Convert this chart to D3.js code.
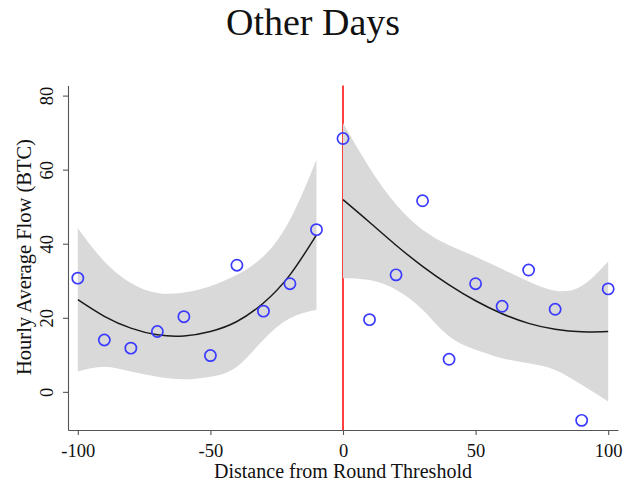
<!DOCTYPE html>
<html>
<head>
<meta charset="utf-8">
<script src="https://cdn.jsdelivr.net/npm/d3@7"></script>
<style>
  html, body { margin: 0; padding: 0; background: #fff; }
  svg { display: block; }
  text { font-family: "Liberation Serif", "Times New Roman", serif; fill: #111; }
</style>
</head>
<body>
<svg id="chart" width="626" height="482"></svg>
<script>
// ---- data ----
const title = "Other Days";
const xLabel = "Distance from Round Threshold";
const yLabel = "Hourly Average Flow (BTC)";
const xTicks = [-100, -50, 0, 50, 100];
const yTicks = [0, 20, 40, 60, 80];

const pointX = [-100, -90, -80, -70, -60, -50, -40, -30, -20, -10, 0, 10, 20, 30, 40, 50, 60, 70, 80, 90, 100];
const pointY = [30.7, 14.0, 11.8, 16.3, 20.3, 9.8, 34.2, 21.8, 29.2, 43.8, 68.4, 19.5, 31.6, 51.6, 8.8, 29.2, 23.1, 32.9, 22.3, -7.7, 27.8];

const leftX = [-100, -90, -80, -70, -60, -50, -40, -30, -20, -10];
const leftFit = [24.9, 20.4, 17.2, 15.4, 15.1, 16.3, 19.0, 24.0, 31.6, 42.4];
const leftUpper = [44.2, 35.2, 29.4, 26.7, 26.8, 28.5, 31.6, 36.6, 46.5, 62.7];
const leftLower = [5.5, 6.8, 5.5, 4.1, 3.4, 4.1, 6.8, 14.1, 19.9, 22.2];

const rightX = [0, 10, 20, 30, 40, 50, 60, 70, 80, 90, 100];
const rightFit = [51.9, 45.8, 39.6, 33.9, 28.9, 24.6, 21.1, 18.5, 16.9, 16.2, 16.3];
const rightUpper = [72.6, 60.5, 50.6, 43.8, 39.6, 36.5, 33.2, 29.8, 27.3, 28.6, 35.2];
const rightLower = [30.7, 30.2, 27.6, 22.2, 15.0, 11.4, 9.1, 7.7, 5.9, 1.9, -2.6];

const cutoff = 0;

// ---- layout ----
const svg = d3.select("#chart");
const x = d3.scaleLinear().domain([-103.7, 103.7]).range([68, 618]);
const y = d3.scaleLinear().domain([-10.3, 82.7]).range([430, 85.6]);

// title
svg.append("text").attr("x", 313).attr("y", 35).attr("text-anchor", "middle")
  .style("font-size", "38px").text(title);

// red cutoff line (behind band)
svg.append("line")
  .attr("x1", x(cutoff)).attr("x2", x(cutoff))
  .attr("y1", y.range()[1]).attr("y2", y.range()[0])
  .attr("stroke", "#ff0000").attr("stroke-width", 1.5);

function segment(xs, fit, lo, hi) {
  const rows = xs.map((v, i) => ({ x: v, fit: fit[i], lo: lo[i], hi: hi[i] }));
  const area = d3.area().curve(d3.curveNatural)
    .x(d => x(d.x)).y0(d => y(d.lo)).y1(d => y(d.hi));
  svg.append("path").datum(rows).attr("d", area).attr("fill", "#d9d9d9");
  const line = d3.line().curve(d3.curveNatural)
    .x(d => x(d.x)).y(d => y(d.fit));
  svg.append("path").datum(rows).attr("d", line)
    .attr("fill", "none").attr("stroke", "#1a1a1a").attr("stroke-width", 1.5);
}
segment(leftX, leftFit, leftLower, leftUpper);
segment(rightX, rightFit, rightLower, rightUpper);

// axes
const axisColor = "#555";
const fmt = d => String(d);
const gx = svg.append("g").attr("transform", `translate(0,${y.range()[0]})`)
  .call(d3.axisBottom(x).tickValues(xTicks).tickSize(5).tickSizeOuter(0).tickFormat(fmt));
const gy = svg.append("g").attr("transform", `translate(${x.range()[0]},0)`)
  .call(d3.axisLeft(y).tickValues(yTicks).tickSize(5).tickSizeOuter(0).tickFormat(fmt));
[gx, gy].forEach(g => {
  g.select(".domain").attr("stroke", axisColor).attr("stroke-width", 1.1);
  g.selectAll(".tick line").attr("stroke", axisColor).attr("stroke-width", 1.1);
  g.selectAll(".tick text").style("font-family", '"Liberation Serif", serif')
    .style("font-size", "18.5px").attr("fill", "#111");
});
gx.selectAll(".tick text").attr("dy", null).attr("y", 27);
gy.selectAll(".tick text").attr("transform", "rotate(-90)")
  .attr("x", 0).attr("y", -15).attr("dy", null).attr("text-anchor", "middle");

// points
svg.append("g").selectAll("circle").data(pointX.map((v, i) => ({ x: v, y: pointY[i] })))
  .join("circle")
  .attr("cx", d => x(d.x)).attr("cy", d => y(d.y)).attr("r", 5.6)
  .attr("fill", "none").attr("stroke", "#3b3bff").attr("stroke-width", 1.7);

// axis titles
svg.append("text").attr("x", 343).attr("y", 477.5).attr("text-anchor", "middle")
  .style("font-size", "20px").text(xLabel);
svg.append("text").attr("transform", "translate(30.5,257) rotate(-90)")
  .attr("text-anchor", "middle").style("font-size", "20.5px").text(yLabel);
</script>
</body>
</html>
